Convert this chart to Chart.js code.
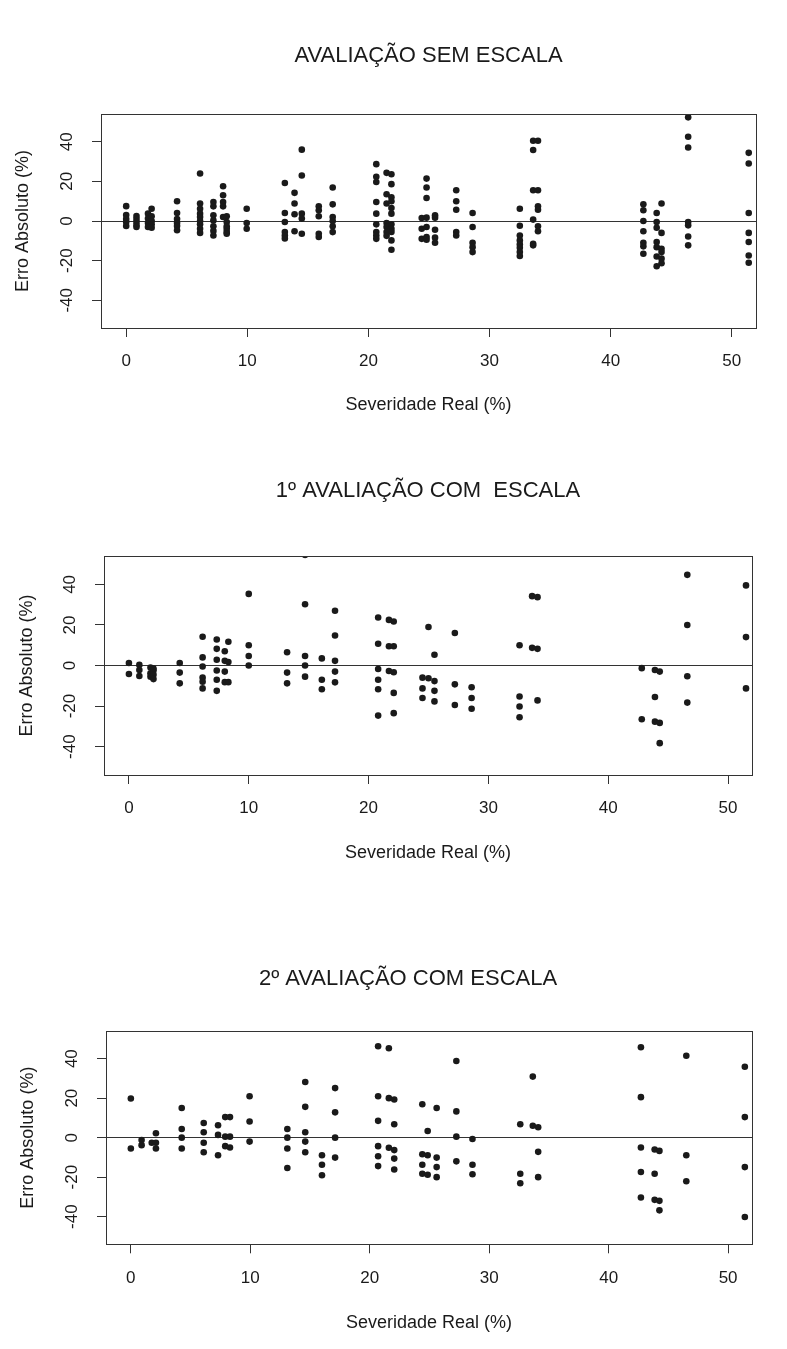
<!DOCTYPE html>
<html>
<head>
<meta charset="utf-8">
<script src="https://cdn.jsdelivr.net/npm/chart.js@4.4.0/dist/chart.umd.min.js"></script>
<style>
  body { margin: 0; background: #fff; width: 787px; height: 1349px; position: relative; overflow: hidden; }
  .panel { position: absolute; left: 0; width: 787px; }
</style>
</head>
<body>
<div class="panel" style="top:0;height:430px"><canvas id="chart1" width="787" height="430"></canvas></div>
<div class="panel" style="top:430px;height:480px"><canvas id="chart2" width="787" height="480"></canvas></div>
<div class="panel" style="top:910px;height:439px"><canvas id="chart3" width="787" height="439"></canvas></div>
<script>
// Tick labels shared by the three plots
const xTicks = [0, 10, 20, 30, 40, 50];
const yTicks = [-40, -20, 0, 20, 40];

// Avaliação sem escala: severity positions and the errors stacked at each
const semEscalaX = [0, 0.85, 1.8, 2.1, 4.2, 6.1, 7.2, 8.0, 8.3, 9.95, 13.1, 13.9, 14.5, 15.9, 17.05,
    20.65, 21.5, 21.9, 24.4, 24.8, 25.5, 27.25, 28.6, 32.5, 33.6, 34.0, 42.7, 43.8, 44.2, 46.4, 51.4];
const semEscalaY = [
    [7.5, 3, 1, -0.5, -2.5],
    [2.5, 1, -0.5, -2, -3],
    [3.7, 1.2, -1, -3],
    [6.2, 2.4, 0, -1.7, -3.4],
    [10, 4, 1, -1, -2.5, -4.7],
    [24, 8.8, 6.2, 3.7, 2, 0, -1.7, -3.9, -6],
    [9.6, 7.4, 2.9, 0.3, -2.7, -5, -7.3],
    [17.5, 13, 9.6, 7.4, 2],
    [2.4, -0.5, -2.7, -3.9, -5.5, -6.4],
    [6.2, -1, -3.9],
    [19.2, 4, -0.5, -5.6, -7.3, -8.8],
    [14.2, 8.8, 3.4, -5.2],
    [36, 23, 3.7, 1.2, -6.4],
    [7.4, 5.4, 2.4, -6.4, -8.1],
    [16.9, 8.4, 2, 0, -2.7, -5.6],
    [28.7, 22.3, 19.7, 9.6, 3.7, -1.7, -5.6, -7.3, -9],
    [24.3, 13.5, 8.8, -1, -3, -5.6, -7.5],
    [23.6, 18.6, 12, 10, 6.5, 3.7, -1.7, -3.9, -5.5, -9.8, -14.5],
    [1.5, -3.9, -9],
    [21.4, 16.9, 11.6, 1.7, -3, -8.1, -9.5],
    [2.9, 1.7, -4.4, -8.4, -11],
    [15.5, 10, 5.7, -5.6, -7.3],
    [4, -3, -11, -13.2, -15.7],
    [6.2, -2.4, -7.3, -9.8, -11.8, -13.5, -15.7, -17.7],
    [40.5, 35.8, 15.5, 0.7, -11.5, -12.3],
    [40.5, 15.5, 7.4, 5.7, -2.7, -5.2],
    [8.4, 5.4, 0, -5.2, -11, -12.8, -16.5],
    [4, -0.5, -3.4, -10.6, -13.2, -17.9, -22.8],
    [8.8, -6, -14, -15.7, -19, -21.3],
    [52.3, 42.5, 37.1, -0.5, -2.2, -7.8, -12.3],
    [34.4, 29, 4, -6, -10.6, -17.4, -21.1]
];

// 1º avaliação com escala
const comEscala1X = [0, 0.87, 1.8, 2.05, 4.24, 6.15, 7.33, 8.0, 8.3, 10, 13.2, 14.7, 16.1, 17.2,
    20.8, 21.7, 22.1, 24.5, 25.0, 25.5, 27.2, 28.6, 32.6, 33.65, 34.1, 42.8, 43.9, 44.3, 46.6, 51.5];
const comEscala1Y = [
    [1.2, -4.2],
    [0.3, -2.2, -5.2],
    [-1, -3.8, -5.5],
    [-1.5, -2.5, -4.5, -6.7],
    [1.2, -3.5, -8.8],
    [14.2, 4, -0.5, -6, -8, -11.3],
    [12.8, 8.2, 2.8, -2.5, -7, -12.5],
    [7, 2.3, -3, -8.2],
    [11.7, 1.7, -8.2],
    [35.3, 10, 4.7, 0],
    [6.5, -3.5, -8.8],
    [54.5, 30.2, 4.7, 0, -5.5],
    [3.5, -7, -11.7],
    [27, 14.8, 2.3, -3, -8.3],
    [23.7, 10.7, -1.7, -7, -11.7, -24.7],
    [22.5, 9.5, -2.7],
    [21.7, 9.5, -3.3, -13.5, -23.5],
    [-6, -11.3, -16],
    [19, -6.3],
    [5.3, -7.7, -12.5, -17.7],
    [16, -9.3, -19.5],
    [-10.7, -16, -21.3],
    [10, -15.3, -20.2, -25.5],
    [34.2, 8.7],
    [33.7, 8.2, -17.2],
    [-1.3, -26.5],
    [-2.2, -15.5, -27.7],
    [-3, -28.3, -38.3],
    [44.7, 20, -5.3, -18.3],
    [39.5, 14, -11.3]
];

// 2º avaliação com escala
const comEscala2X = [0, 0.9, 1.75, 2.1, 4.26, 6.1, 7.3, 7.9, 8.3, 9.94, 13.1, 14.6, 16, 17.1,
    20.7, 21.6, 22.05, 24.4, 24.85, 25.6, 27.25, 28.6, 32.6, 33.65, 34.1, 42.7, 43.85, 44.25, 46.5, 51.4];
const comEscala2Y = [
    [19.8, -5.5],
    [-1.2, -3.8],
    [-2.6],
    [2.2, -2.6, -5.5],
    [15, 4.4, 0, -5.5],
    [7.4, 2.7, -2.6, -7.4],
    [6.3, 1.4, -8.9],
    [10.4, 0.5, -4.3],
    [10.4, 0.5, -5],
    [21, 8.2, -2],
    [4.4, 0, -5.5, -15.4],
    [28.2, 15.6, 2.7, -2, -7.4],
    [-8.9, -13.7, -19],
    [25.1, 12.8, 0, -10.1],
    [46.3, 21, 8.5, -4.3, -9.4, -14.4],
    [45.3, 20, -5.1],
    [19.3, 6.8, -6.3, -10.6, -16.1],
    [16.9, -8.4, -13.7, -18.3],
    [3.4, -8.9, -18.8],
    [15, -10.1, -14.9, -20],
    [38.8, 13.3, 0.5, -12],
    [-0.7, -13.7, -18.5],
    [6.8, -18.3, -23.1],
    [30.9, 6],
    [5.3, -7.2, -20],
    [45.8, 20.5, -5, -17.4, -30.3],
    [-6, -18.3, -31.5],
    [-6.7, -32, -36.8],
    [41.5, -8.9, -22.1],
    [35.9, 10.4, -14.9, -40.2]
];

const ink = "#1a1a1a";
const lineInk = "#333";
const sans = "'Liberation Sans', Arial, sans-serif";

// R-style box around the plot region
const framePlugin = {
    id: "frame",
    afterDatasetsDraw(chart) {
        const { ctx, chartArea: a } = chart;
        ctx.save();
        ctx.strokeStyle = lineInk;
        ctx.lineWidth = 1;
        ctx.strokeRect(Math.round(a.left) + 0.5, Math.round(a.top) + 0.5,
            Math.round(a.right - a.left), Math.round(a.bottom - a.top));
        ctx.restore();
    },
};

function toPoints(xs, ys) {
    return xs.flatMap((x, i) => ys[i].map((y) => ({ x: x, y: y })));
}

/**
 * Draws one scatter panel
 * g holds the layout numbers (plot box edges, title offsets)
 */
function renderPanel(canvasId, title, xs, ys, g) {
    const ctx = document.getElementById(canvasId).getContext("2d");
    new Chart(ctx, {
        type: "scatter",
        data: {
            datasets: [
                {
                    data: toPoints(xs, ys),
                    pointRadius: 3.3,
                    pointHoverRadius: 3.3,
                    pointBackgroundColor: ink,
                    pointBorderWidth: 0,
                },
            ],
        },
        options: {
            responsive: false,
            animation: false,
            events: [],
            layout: { padding: { left: g.padLeft, right: g.right, top: 0, bottom: 0 } },
            scales: {
                x: {
                    type: "linear",
                    min: -2.08,
                    max: 52,
                    afterBuildTicks: (scale) => {
                        scale.ticks = xTicks.map((v) => ({ value: v }));
                    },
                    afterFit: (scale) => {
                        scale.height = g.xHeight;
                    },
                    border: { display: false },
                    grid: {
                        drawOnChartArea: false,
                        tickLength: 9,
                        tickColor: lineInk,
                    },
                    ticks: {
                        color: ink,
                        padding: 14.5,
                        maxRotation: 0,
                        font: { family: sans, size: 17 },
                    },
                    title: {
                        display: true,
                        text: "Severidade Real (%)",
                        color: ink,
                        font: { family: sans, size: 18 },
                        padding: { top: 0, bottom: g.xTitleBottom },
                    },
                },
                y: {
                    type: "linear",
                    min: -54,
                    max: 54,
                    afterBuildTicks: (scale) => {
                        scale.ticks = yTicks.map((v) => ({ value: v }));
                    },
                    afterFit: (scale) => {
                        scale.width = g.left - g.padLeft;
                    },
                    border: { display: false },
                    grid: {
                        drawOnChartArea: true,
                        color: (c) => (c.tick && c.tick.value === 0 ? lineInk : "transparent"),
                        tickLength: 9,
                        tickColor: lineInk,
                    },
                    ticks: {
                        color: ink,
                        padding: 12,
                        minRotation: 90,
                        maxRotation: 90,
                        crossAlign: "center",
                        font: { family: sans, size: 17 },
                    },
                    title: {
                        display: true,
                        text: "Erro Absoluto (%)",
                        color: ink,
                        font: { family: sans, size: 18 },
                        // measured from the plot's left padding edge
                        padding: { top: g.yTitleX - g.padLeft - 10.8, bottom: 0 },
                    },
                },
            },
            plugins: {
                legend: { display: false },
                tooltip: { enabled: false },
                title: {
                    display: true,
                    text: title,
                    fullSize: g.titleFull,
                    color: ink,
                    font: { family: sans, size: 22, weight: "normal" },
                    padding: { top: g.titleTop, bottom: g.titleBottom },
                },
            },
        },
        plugins: [framePlugin],
    });
}

renderPanel("chart1", "AVALIAÇÃO SEM ESCALA", semEscalaX, semEscalaY, {
    padLeft: 0, titleFull: false, left: 101, right: 31, titleTop: 42.3, titleBottom: 45.3,
    xHeight: 102, xTitleBottom: 13.7, yTitleX: 23,
});
renderPanel("chart2", "1º AVALIAÇÃO COM  ESCALA", comEscala1X, comEscala1Y, {
    padLeft: 0, titleFull: false, left: 104, right: 35, titleTop: 47.3, titleBottom: 52.3,
    xHeight: 135, xTitleBottom: 46.2, yTitleX: 27,
});
renderPanel("chart3", "2º AVALIAÇÃO COM ESCALA", comEscala2X, comEscala2Y, {
    padLeft: 64, titleFull: true, left: 106, right: 35, titleTop: 55.8, titleBottom: 38.8,
    xHeight: 104.7, xTitleBottom: 15.2, yTitleX: 28,
});
</script>
</body>
</html>
